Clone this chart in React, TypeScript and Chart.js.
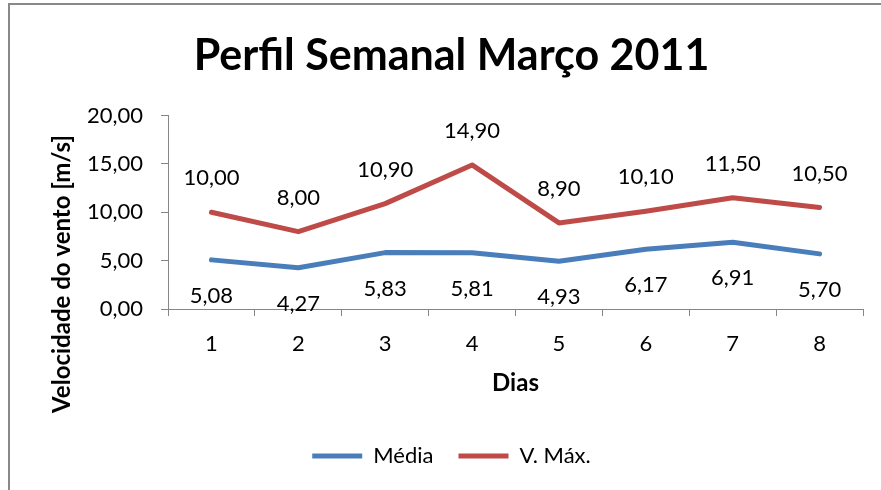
import React, { useEffect, useRef } from "react";
import { Chart, registerables } from "chart.js";

Chart.register(...registerables);

const categories = ["1", "2", "3", "4", "5", "6", "7", "8"];
const mediaValues = [5.08, 4.27, 5.83, 5.81, 4.93, 6.17, 6.91, 5.7];
const maxValues = [10.0, 8.0, 10.9, 14.9, 8.9, 10.1, 11.5, 10.5];
const seriesNames = ["Média", "V. Máx."];
const titleText = "Perfil Semanal Março 2011";
const xTitleText = "Dias";
const yTitleText = "Velocidade do vento [m/s]";

const FONT = "Lato";
const fmt = (v: number) => v.toFixed(2).replace(".", ",");

const pointLabelPlugin = {
  id: "pointLabels",
  afterDatasetsDraw(chart: any) {
    const ctx = chart.ctx;
    ctx.save();
    ctx.font = `22px ${FONT}`;
    ctx.fillStyle = "#000";
    ctx.textAlign = "center";
    ctx.textBaseline = "middle";
    chart.data.datasets.forEach((ds: any, i: number) => {
      const meta = chart.getDatasetMeta(i);
      meta.data.forEach((pt: any, j: number) => {
        ctx.fillText(fmt(ds.data[j]), pt.x, pt.y + ds.labelOffset);
      });
    });
    ctx.restore();
  },
};

const yTitlePlugin = {
  id: "yTitle",
  afterDraw(chart: any) {
    const ctx = chart.ctx;
    const area = chart.chartArea;
    ctx.save();
    ctx.font = `bold 24px ${FONT}`;
    ctx.fillStyle = "#000";
    ctx.textAlign = "center";
    ctx.textBaseline = "middle";
    ctx.translate(area.left - 106, area.bottom - 35);
    ctx.rotate(-Math.PI / 2);
    ctx.fillText(yTitleText, 0, 0);
    ctx.restore();
  },
};

export default function App() {
  const ref = useRef<HTMLCanvasElement | null>(null);

  useEffect(() => {
    if (!ref.current) return;
    const gray = "#868686";
    const chart = new Chart(ref.current, {
      type: "line",
      data: {
        labels: categories,
        datasets: [
          {
            label: seriesNames[0],
            data: mediaValues,
            borderColor: "#4A7EBB",
            backgroundColor: "#4A7EBB",
            borderWidth: 5,
            borderCapStyle: "round",
            borderJoinStyle: "round",
            pointRadius: 0,
            pointHoverRadius: 0,
            tension: 0,
            labelOffset: 36,
          } as any,
          {
            label: seriesNames[1],
            data: maxValues,
            borderColor: "#BE4B48",
            backgroundColor: "#BE4B48",
            borderWidth: 5,
            borderCapStyle: "round",
            borderJoinStyle: "round",
            pointRadius: 0,
            pointHoverRadius: 0,
            tension: 0,
            labelOffset: -34,
          } as any,
        ],
      },
      options: {
        responsive: false,
        animation: false,
        events: [],
        layout: { padding: { left: 40, right: 18, top: 0, bottom: 13 } },
        plugins: {
          tooltip: { enabled: false },
          title: {
            display: true,
            text: titleText,
            color: "#000",
            font: { family: FONT, size: 43, weight: "bold", lineHeight: 1.2 },
            padding: { top: 30, bottom: 34 },
          },
          legend: {
            position: "bottom",
            labels: {
              usePointStyle: true,
              pointStyle: "line",
              pointStyleWidth: 50,
              color: "#000",
              font: { family: FONT, size: 22 },
              padding: 25,
            },
          },
        },
        scales: {
          x: {
            type: "category",
            offset: true,
            grid: {
              display: true,
              drawOnChartArea: false,
              drawTicks: true,
              tickLength: 7,
              color: gray,
              offset: true,
            },
            border: { display: true, color: gray, width: 1 },
            ticks: {
              color: "#000",
              font: { family: FONT, size: 22 },
              padding: 15,
              maxRotation: 0,
            },
            title: {
              display: true,
              text: xTitleText,
              color: "#000",
              font: { family: FONT, size: 24, weight: "bold" },
              padding: { top: 0, bottom: 22 },
            },
            afterFit(scale: any) {
              scale.height = 111;
            },
          },
          y: {
            min: 0,
            max: 20,
            grid: {
              display: true,
              drawOnChartArea: false,
              drawTicks: true,
              tickLength: 7,
              color: gray,
            },
            border: { display: true, color: gray, width: 1 },
            ticks: {
              stepSize: 5,
              color: "#000",
              font: { family: FONT, size: 22 },
              padding: 18,
              callback: (v: any) => fmt(Number(v)),
            },
            afterFit(scale: any) {
              scale.width = 128;
            },
          },
        },
      },
      plugins: [pointLabelPlugin, yTitlePlugin],
    });
    return () => chart.destroy();
  }, []);

  return (
    <div
      style={{
        position: "fixed",
        left: 0,
        top: 0,
        width: 881,
        height: 490,
        background: "#fff",
        overflow: "hidden",
      }}
    >
      <canvas ref={ref} width={881} height={490} style={{ display: "block", width: 881, height: 490 }} />
      <div
        style={{
          position: "absolute",
          left: 8,
          top: 3,
          right: 0,
          bottom: 0,
          borderLeft: "2px solid #898989",
          borderTop: "2px solid #898989",
          pointerEvents: "none",
        }}
      />
    </div>
  );
}
